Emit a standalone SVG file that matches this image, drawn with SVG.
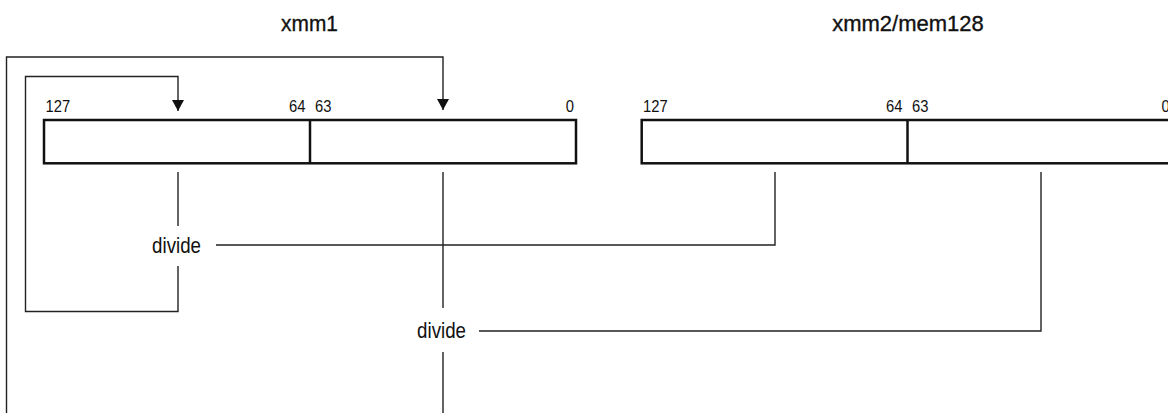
<svg xmlns="http://www.w3.org/2000/svg" width="1168" height="413" viewBox="0 0 1168 413">
<style>
.t{font-family:"Liberation Sans",Arial,sans-serif;fill:#111}
.title{font-size:22px;stroke:#111;stroke-width:0.35}
.num{font-size:17px}
.op{font-size:22px}
.reg{fill:#fff;stroke:#111;stroke-width:2.5}
.c{fill:none;stroke:#222;stroke-width:1.4}
</style>
<defs>
<marker id="ah" viewBox="0 0 11 12" refX="11" refY="6" markerWidth="11" markerHeight="12" markerUnits="userSpaceOnUse" orient="auto">
<path d="M0,0 L11,6 L0,12 Z" fill="#111"/>
</marker>
</defs>
<rect width="1168" height="413" fill="#fff"/>
<g id="title-xmm1"><text class="t title" transform="translate(309.5,31) scale(0.95,1)" text-anchor="middle">xmm1</text></g>
<g id="title-xmm2"><text class="t title" transform="translate(908,31)" text-anchor="middle">xmm2/mem128</text></g>
<g id="reg-xmm1">
<rect class="reg" x="44" y="120" width="532" height="43.3"/>
<line class="reg" x1="310" y1="120" x2="310" y2="163.3"/>
<text class="t num" transform="translate(45.5,111.5) scale(0.87,1)">127</text>
<text class="t num" transform="translate(305.5,111.5) scale(0.87,1)" text-anchor="end">64</text>
<text class="t num" transform="translate(315,111.5) scale(0.87,1)">63</text>
<text class="t num" transform="translate(574,111.5) scale(0.87,1)" text-anchor="end">0</text>
</g>
<g id="reg-xmm2">
<rect class="reg" x="641.7" y="120" width="540" height="43.3"/>
<line class="reg" x1="907.5" y1="120" x2="907.5" y2="163.3"/>
<text class="t num" transform="translate(643,111.5) scale(0.87,1)">127</text>
<text class="t num" transform="translate(902.5,111.5) scale(0.87,1)" text-anchor="end">64</text>
<text class="t num" transform="translate(912,111.5) scale(0.87,1)">63</text>
<text class="t num" transform="translate(1161.5,111.5) scale(0.87,1)">0</text>
</g>
<g id="divide-high"><text class="t op" transform="translate(176.5,253) scale(0.85,1)" text-anchor="middle">divide</text></g>
<g id="divide-low"><text class="t op" transform="translate(441.5,338) scale(0.85,1)" text-anchor="middle">divide</text></g>
<g id="connectors">
<path class="c" d="M6.5,413 V57 H443 V110" marker-end="url(#ah)"/>
<path class="c" d="M178,266 V311.5 H25.5 V76.5 H178 V111" marker-end="url(#ah)"/>
<path class="c" d="M178,172 V226"/>
<path class="c" d="M216,245 H775 V172"/>
<path class="c" d="M443,172 V308"/>
<path class="c" d="M443,352 V413"/>
<path class="c" d="M479,331 H1041 V172"/>
</g>
</svg>
